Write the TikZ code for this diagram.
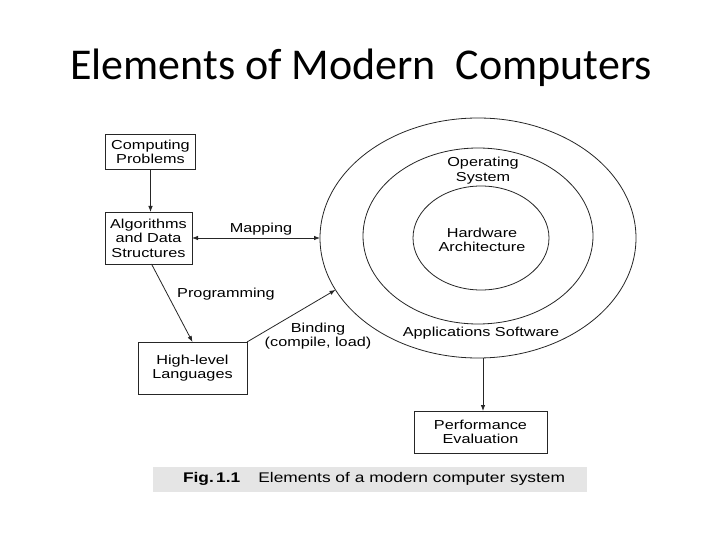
\documentclass[tikz,border=0pt]{standalone}
\usepackage{fontspec}
\setmainfont{Liberation Sans}
\newfontfamily\titlefont{Carlito}
\newfontfamily\diagfont[FakeStretch=1.25]{Liberation Sans}
\newfontfamily\capfont[FakeStretch=1.24]{Liberation Sans}
\usetikzlibrary{shapes.geometric,arrows.meta}
\begin{document}
\begin{tikzpicture}[x=1pt,y=-1pt,
  every node/.style={inner sep=0pt, outer sep=0pt},
  box/.style={draw=black!85, line width=0.8pt, align=center, font=\diagfont\fontsize{13}{14.5}\selectfont},
  ring/.style={draw=black!85, line width=0.8pt, ellipse},
  lbl/.style={align=center, font=\diagfont\fontsize{13}{14.5}\selectfont},
  conn/.style={draw=black!85, line width=0.8pt, -{Latex[length=6pt,width=4.5pt]}},
  conn2/.style={draw=black!85, line width=0.8pt, {Latex[length=6pt,width=4.5pt]}-{Latex[length=6pt,width=4.5pt]}}]
\useasboundingbox (0,0) rectangle (720,540);
\fill[white] (0,0) rectangle (720,540);
\node[font=\titlefont\fontsize{44}{46}\selectfont] (title) at (361,68) {Elements of Modern\ \ Computers};
% boxes
\node[box, minimum width=90, minimum height=35] (cp) at (150.5,152) {Computing\\Problems};
\node[box, minimum width=87, minimum height=52] (ads) at (148.5,238) {Algorithms\\and Data\\Structures};
\node[box, minimum width=109, minimum height=52] (hll) at (192.5,368) {High-level\\Languages};
\node[box, minimum width=133, minimum height=42] (pe) at (480.5,432) {Performance\\Evaluation};
% ellipses
\node[ring, minimum width=316, minimum height=240] (outer) at (478,238) {};
\node[ring, minimum width=230, minimum height=176] (mid) at (478,236) {};
\node[ring, minimum width=136, minimum height=104] (inner) at (481,238) {};
\node[lbl] (os) at (483,170.5) {Operating\\System};
\node[lbl] (hw) at (482,240) {Hardware\\Architecture};
\node[lbl] (as) at (481,333) {Applications Software};
% connectors
\draw[conn] (cp.south) -- (cp.south |- ads.north);
\draw[conn2] (ads.east) -- (outer.west);
\node[lbl] (map) at (261,229) {Mapping};
\draw[conn] ([xshift=3pt]ads.south) -- ([xshift=0pt]hll.north);
\node[lbl] (prog) at (226,294) {Programming};
\draw[conn] (hll.north east) -- (outer.200);
\node[lbl] (bind) at (318,336) {Binding\\(compile, load)};
\draw[conn] ([xshift=5pt]outer.south) -- ([xshift=2.5pt]pe.north);
% caption
\node[fill=black!10, minimum width=434, minimum height=25] (capbar) at (370,479.5) {};
\node[font=\capfont\fontsize{14}{15}\selectfont, anchor=west] (cap) at (183,479) {\textbf{Fig.\,1.1}\hspace{18pt}Elements of a modern computer system};
\end{tikzpicture}
\end{document}
